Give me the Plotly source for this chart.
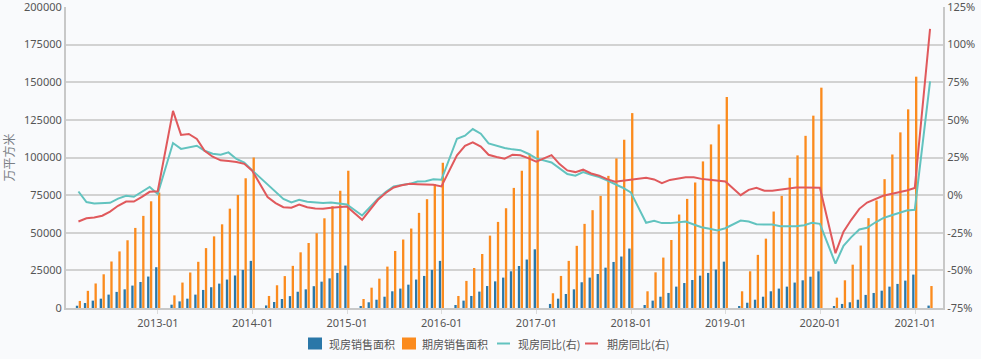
import pandas as pd
import plotly.graph_objects as go

# Months (cumulative data, Jan-Feb combined -> Feb..Dec each year)
years = list(range(2012, 2021))
month_labels = [f"{y}-{m:02d}" for y in years for m in range(2, 13)] + ["2021-02"]

# 现房销售面积 (万平方米)
spot_area = [
    1500, 3300, 4900, 6200, 8900, 10700, 12400, 14900, 17300, 20900, 27100,
    2200, 4400, 6200, 8900, 12000, 13800, 16200, 18900, 21600, 25300, 31300,
    1700, 4000, 6000, 7900, 10800, 12400, 14500, 17500, 19700, 23300, 28200,
    1300, 3800, 5500, 7500, 11100, 12900, 15500, 18900, 21300, 25300, 31300,
    2000, 4900, 8000, 10900, 14600, 17700, 20200, 24400, 27900, 32200, 39000,
    2700, 6200, 9300, 12400, 17100, 20200, 22600, 26800, 30600, 34200, 39500,
    2000, 4900, 7500, 10000, 14200, 16600, 18600, 21500, 23300, 25500, 30800,
    1300, 3500, 5500, 7500, 11100, 12900, 14200, 16900, 18400, 20800, 24400,
    900, 2700, 3800, 5500, 8700, 10000, 11500, 14200, 16000, 18200, 22200,
    1600,
]

# 期房销售面积 (万平方米)
presale_area = [
    4700, 11400, 16300, 22400, 30900, 37600, 45000, 53200, 61200, 70900, 76700,
    8400, 16900, 23600, 30700, 39800, 47600, 55600, 66000, 75100, 86200, 100000,
    8000, 15100, 21200, 28000, 37000, 43200, 49700, 59600, 67600, 77900, 91200,
    6000, 13500, 19500, 27500, 37900, 45500, 52800, 63200, 72300, 82300, 96500,
    8000, 18000, 26600, 35900, 48100, 57200, 66300, 79800, 91200, 102500, 118000,
    9800, 21300, 31300, 41300, 55900, 65000, 74500, 87800, 99400, 111800, 129500,
    11100, 23700, 33500, 45200, 62100, 72500, 83400, 97400, 108700, 122000, 140200,
    11100, 24400, 35300, 46100, 64100, 74500, 86500, 101400, 114400, 127800, 146400,
    6900, 18400, 28800, 41500, 59700, 71400, 85600, 102000, 116700, 132000, 153700,
    14600,
]

# 现房同比 (%)
spot_yoy = [
    2.4, -4.6, -5.6, -5.2, -5.1, -2.3, -0.5, -1.1, 2.3, 5.4, 0.8,
    34.6, 30.7, 31.6, 32.8, 29.5, 27.5, 26.8, 28.4, 24.0, 21.7, 16.4,
    7.0, 2.0, -2.5, -4.9, -3.1, -4.4, -5.1, -5.3, -4.9, -5.5, -6.2,
    -13.5, -7.5, -2.4, 2.2, 5.8, 6.8, 7.5, 9.1, 9.3, 10.6, 10.2,
    37.5, 39.5, 43.9, 40.8, 34.4, 32.8, 31.3, 30.4, 29.9, 27.5, 24.4,
    21.7, 18.0, 14.0, 12.9, 15.3, 13.5, 12.0, 9.8, 7.5, 4.9, 1.8,
    -18.4, -17.1, -18.6, -18.6, -18.2, -17.5, -19.5, -21.3, -22.4, -23.5, -22.0,
    -16.9, -17.5, -19.3, -19.5, -19.5, -20.6, -20.6, -20.6, -20.0, -18.4, -19.1,
    -45.5, -33.7, -27.9, -22.8, -21.7, -18.2, -15.3, -13.5, -12.0, -10.2, -9.8,
    75.6,
]

# 期房同比 (%)
presale_yoy = [
    -17.5, -15.4, -14.9, -13.7, -10.9, -7.1, -4.3, -4.3, -1.2, 2.2, 2.6,
    56.0, 40.0, 40.6, 37.3, 29.5, 25.5, 23.1, 22.6, 22.0, 20.8, 16.2,
    -1.3, -5.3, -8.0, -8.4, -6.2, -8.0, -8.9, -9.1, -8.4, -8.2, -7.5,
    -16.4, -9.3, -3.1, 1.6, 5.1, 6.6, 7.5, 7.3, 7.1, 6.9, 5.8,
    26.4, 32.8, 35.0, 32.2, 26.8, 25.3, 24.2, 26.8, 26.5, 24.6, 22.3,
    26.6, 20.6, 16.4, 15.3, 16.9, 14.4, 12.9, 10.6, 8.9, 9.5, 10.2,
    11.5, 10.4, 7.9, 10.1, 10.9, 11.9, 11.9, 10.8, 10.2, 9.7, 9.0,
    0.0, 3.5, 4.9, 2.9, 2.9, 3.5, 4.4, 5.1, 5.1, 5.1, 4.9,
    -38.6, -24.3, -16.4, -9.1, -4.9, -2.7, -0.4, 0.7, 1.8, 3.1, 4.7,
    110.5,
]

left_ticks = [0, 25000, 50000, 75000, 100000, 125000, 150000, 175000, 200000]
right_ticks = [-75, -50, -25, 0, 25, 50, 75, 100, 125]

series_names = ["现房销售面积", "期房销售面积", "现房同比(右)", "期房同比(右)"]
series_colors = ["#2a77a8", "#fb8b1e", "#62c3bf", "#e0595c"]

dates = pd.to_datetime(month_labels) + pd.offsets.MonthEnd(0)
DAY = 86400000

FONT = "Noto Sans CJK SC, Noto Sans, sans-serif"
TICKFONT = "Noto Sans, DejaVu Sans, sans-serif"
TXT = "#555555"
GRID = "#d2d2d2"
W, H = 981, 359
ML, MR, MT, MB = 66, 38, 7, 51

fig = go.Figure()
fig.add_trace(go.Bar(
    x=dates, y=spot_area, name=series_names[0],
    marker=dict(color=series_colors[0], line=dict(width=0)),
    offset=-10 * DAY, width=9 * DAY,
))
fig.add_trace(go.Bar(
    x=dates, y=presale_area, name=series_names[1],
    marker=dict(color=series_colors[1], line=dict(width=0)),
    offset=1 * DAY, width=9 * DAY,
))
fig.add_trace(go.Scatter(
    x=dates, y=spot_yoy, name=series_names[2], yaxis="y2",
    mode="lines", line=dict(color=series_colors[2], width=2),
))
fig.add_trace(go.Scatter(
    x=dates, y=presale_yoy, name=series_names[3], yaxis="y2",
    mode="lines", line=dict(color=series_colors[3], width=2),
))

# Custom legend (bottom, centred) in paper pixel terms
def px_x(x):
    return (x - ML) / (W - ML - MR)

def px_y(y):
    return (H - MB - y) / (H - MT - MB)

legend_y = 343.5
sw_x = [308, 402, 497, 585]
tx_x = [327, 420, 516, 605]
shapes = []
annotations = []
for i in range(4):
    if i < 2:
        shapes.append(dict(type="rect", xref="paper", yref="paper",
                           x0=px_x(sw_x[i]), x1=px_x(sw_x[i] + 14),
                           y0=px_y(legend_y + 6), y1=px_y(legend_y - 6),
                           fillcolor=series_colors[i], line=dict(width=0)))
    else:
        shapes.append(dict(type="line", xref="paper", yref="paper",
                           x0=px_x(sw_x[i]), x1=px_x(sw_x[i] + 13),
                           y0=px_y(legend_y), y1=px_y(legend_y),
                           line=dict(color=series_colors[i], width=2)))
    annotations.append(dict(text=series_names[i], xref="paper", yref="paper",
                            x=px_x(tx_x[i]), y=px_y(legend_y),
                            xanchor="left", yanchor="middle", showarrow=False,
                            font=dict(size=11, color=TXT)))

fig.update_layout(
    width=W, height=H,
    margin=dict(l=ML, r=MR, t=MT, b=MB, autoexpand=False),
    paper_bgcolor="#f9fafc", plot_bgcolor="#f9fafc",
    font=dict(family=FONT, size=11, color=TXT),
    barmode="overlay",
    showlegend=False,
    shapes=shapes,
    annotations=annotations,
    xaxis=dict(
        type="date", range=["2012-01-12", "2021-04-19"],
        tick0="2013-01-01", dtick="M12", tickformat="%Y-%m",
        showgrid=False, showline=True, linecolor="#c8c8c8", linewidth=2,
        ticks="outside", ticklen=4, tickcolor="#dcdcdc", tickwidth=1,
        tickfont=dict(family=TICKFONT, size=11, color=TXT), zeroline=False,
        automargin=False, ticklabeloverflow="allow",
    ),
    yaxis=dict(
        range=[0, 200000], tickvals=left_ticks, ticktext=[str(v) for v in left_ticks],
        showgrid=True, gridcolor=GRID, gridwidth=2,
        showline=True, linecolor="#c8c8c8", linewidth=2, zeroline=False,
        ticks="", tickfont=dict(family=TICKFONT, size=11, color=TXT),
        title=dict(text="万平方米", font=dict(size=12, color="#7a7f86"), standoff=10),
        automargin=False, ticklabeloverflow="allow",
    ),
    yaxis2=dict(
        overlaying="y", side="right", range=[-75, 125],
        tickvals=right_ticks, ticktext=[f"{v}%" for v in right_ticks],
        showgrid=False, showline=True, linecolor="#c8c8c8", linewidth=2,
        zeroline=False, ticks="", tickfont=dict(family=TICKFONT, size=11, color=TXT),
        automargin=False, ticklabeloverflow="allow",
    ),
)

fig.write_html(
    "out.html",
    config={"displayModeBar": False},
    post_script="document.body.style.margin='0';document.body.style.overflow='hidden';",
)
